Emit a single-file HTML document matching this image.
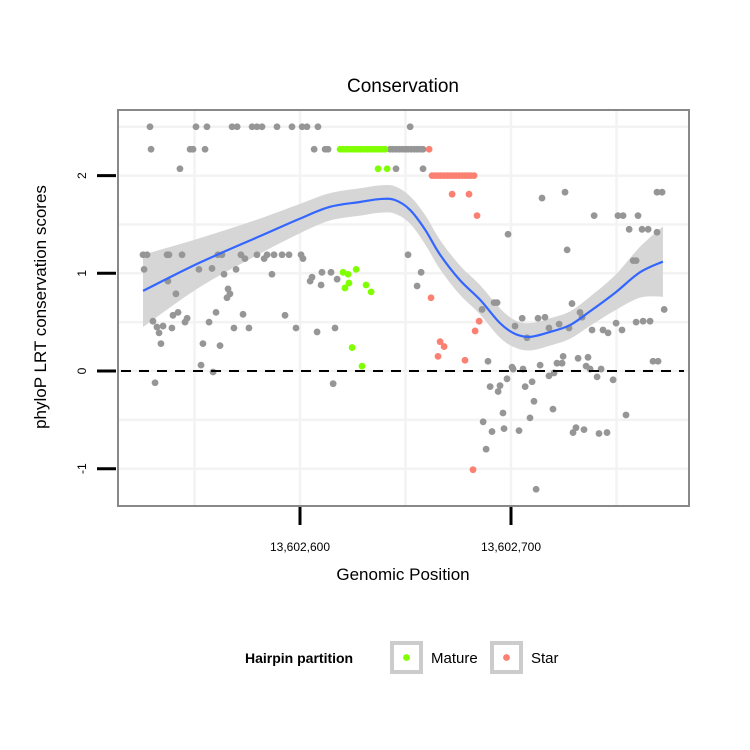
<!DOCTYPE html>
<html><head><meta charset="utf-8"><style>
html,body{margin:0;padding:0;background:#fff;width:750px;height:750px;overflow:hidden}
svg{display:block;font-family:"Liberation Sans",sans-serif}
</style></head><body>
<svg id="chart" width="750" height="750" viewBox="0 0 750 750"></svg>
<script>
// ---- data ----
const basePosition = 13602500;
const greyOffsets = [28.9,50.7,55.9,67.8,70.2,77.3,79.6,82.0,89.1,96.2,101.0,103.3,108.5,152.2,
29.4,47.9,49.3,55.0,106.7,111.9,113.3,142.7,144.1,145.5,147.0,148.4,149.8,151.2,152.7,154.1,155.5,157.0,158.3,
43.1,145.5,158.3,225.6,269.2,271.6,214.7,239.4,250.7,253.1,260.2,256.0,262.1,265.0,269.2,198.6,226.6,257.9,259.3,
25.6,27.5,37.0,37.9,44.1,61.1,63.0,72.0,79.6,84.4,87.7,91.5,94.8,100.5,151.2,73.9,83.0,101.4,
26.1,52.1,69.7,58.3,64.0,86.7,110.4,114.7,157.4,105.7,104.8,110.0,117.6,37.4,41.2,65.9,65.4,66.8,
39.8,42.2,46.5,45.5,30.3,32.2,35.1,39.3,33.2,34.1,56.9,60.2,73.0,68.7,75.8,54.0,62.1,92.9,98.1,108.1,116.6,53.1,58.8,31.3,115.7,155.5,
192.0,193.4,186.3,228.9,232.7,233.7,205.3,201.9,207.6,212.8,216.1,218.0,222.8,227.5,238.4,243.6,246.0,249.8,252.6,259.3,262.6,265.9,272.6,
189.1,200.5,201.0,205.7,213.8,221.8,224.2,224.7,231.8,236.5,235.6,237.5,242.7,240.8,267.3,269.7,220.4,218.0,210.0,206.7,198.1,194.8,193.9,190.1,248.4,
210.9,219.9,196.2,209.0,254.5,186.8,191.0,196.7,203.8,229.4,230.8,234.6,241.7,245.5,188.2,211.9];
const greyScores = [2.5,2.5,2.5,2.5,2.5,2.5,2.5,2.5,2.5,2.5,2.5,2.5,2.5,2.5,
2.27,2.27,2.27,2.27,2.27,2.27,2.27,2.27,2.27,2.27,2.27,2.27,2.27,2.27,2.27,2.27,2.27,2.27,2.27,
2.07,2.07,2.07,1.83,1.83,1.83,1.77,1.59,1.59,1.59,1.59,1.45,1.45,1.45,1.42,1.40,1.24,1.13,1.13,
1.19,1.19,1.19,1.19,1.19,1.19,1.19,1.19,1.19,1.19,1.19,1.19,1.19,1.19,1.19,1.15,1.15,1.15,
1.04,1.04,1.04,1.05,0.99,0.99,1.01,1.01,1.01,0.96,0.92,0.88,0.94,0.92,0.79,0.84,0.75,0.79,
0.57,0.60,0.54,0.50,0.51,0.45,0.46,0.44,0.39,0.28,0.50,0.60,0.58,0.44,0.44,0.28,0.26,0.57,0.44,0.40,0.44,0.06,-0.01,-0.12,-0.13,0.87,
0.70,0.70,0.63,0.69,0.60,0.55,0.54,0.46,0.34,0.54,0.55,0.44,0.48,0.44,0.42,0.42,0.39,0.49,0.42,0.50,0.51,0.51,0.63,
0.10,0.04,0.02,0.02,0.06,0.08,0.08,0.15,0.13,0.14,0.05,0.02,0.02,-0.06,0.10,0.10,-0.02,-0.05,-0.11,-0.16,-0.08,-0.15,-0.21,-0.16,-0.09,
-0.31,-0.39,-0.43,-0.48,-0.45,-0.52,-0.62,-0.59,-0.61,-0.63,-0.58,-0.60,-0.64,-0.63,-0.80,-1.21];
const matureOffsets = [119.0,120.4,121.8,123.2,124.7,126.1,127.5,128.9,130.4,131.8,133.2,134.6,136.0,137.5,138.9,140.3,137.0,141.3,120.4,122.8,126.6,123.2,121.3,131.3,133.7,124.7,129.4];
const matureScores = [2.27,2.27,2.27,2.27,2.27,2.27,2.27,2.27,2.27,2.27,2.27,2.27,2.27,2.27,2.27,2.27,2.07,2.07,1.01,0.99,1.04,0.90,0.85,0.88,0.81,0.24,0.05];
const starOffsets = [161.2,162.6,164.0,165.4,166.8,168.3,169.7,171.1,172.5,173.9,175.4,176.8,178.2,179.6,181.0,182.5,172.1,180.1,183.9,162.1,184.9,183.0,166.4,168.3,165.4,178.2,182.0];
const starScores = [2.27,2.0,2.0,2.0,2.0,2.0,2.0,2.0,2.0,2.0,2.0,2.0,2.0,2.0,2.0,2.0,1.81,1.81,1.59,0.75,0.51,0.41,0.30,0.25,0.15,0.11,-1.01];
const smoothOffsets = [25.6,52.6,81.0,100,114.2,128.4,137.9,145.0,152.1,159.2,166.4,175.8,185.3,194.8,201.9,209.0,218.5,228.0,237.4,249.3,261.1,272.0];
const smoothFit = [0.82,1.11,1.38,1.56,1.68,1.73,1.76,1.75,1.65,1.45,1.19,0.93,0.73,0.49,0.38,0.35,0.40,0.47,0.61,0.80,1.01,1.12];
const smoothSe = [0.37,0.25,0.18,0.15,0.14,0.14,0.14,0.14,0.14,0.15,0.15,0.15,0.15,0.15,0.14,0.14,0.14,0.14,0.15,0.18,0.26,0.36];
const yTicks = [-1,0,1,2];
const yMinor = [-0.5,0.5,1.5,2.5];
const xTicks = [13602600,13602700];
const xTickLabels = ["13,602,600","13,602,700"];
const xMinor = [13602550,13602650,13602750];

// ---- scales ----
const PX0=118, PX1=689, PY0=110, PY1=506;
function xs(p){ return 300 + (p-13602600)*2.11; }
function ys(v){ return 371 - v*97.7; }

const NS="http://www.w3.org/2000/svg";
const svg=document.getElementById('chart');
function mk(tag,attrs,parent){const e=document.createElementNS(NS,tag);for(const k in attrs)e.setAttribute(k,attrs[k]);(parent||svg).appendChild(e);return e;}
function curve(pts){ // catmull-rom to bezier
  let d='M'+pts[0][0]+','+pts[0][1];
  for(let i=0;i<pts.length-1;i++){
    const p0=pts[Math.max(0,i-1)],p1=pts[i],p2=pts[i+1],p3=pts[Math.min(pts.length-1,i+2)];
    const c1=[p1[0]+(p2[0]-p0[0])/6,p1[1]+(p2[1]-p0[1])/6];
    const c2=[p2[0]-(p3[0]-p1[0])/6,p2[1]-(p3[1]-p1[1])/6];
    d+=' C'+c1.join(',')+' '+c2.join(',')+' '+p2.join(',');
  }
  return d;
}

let t=mk('text',{x:403,y:92,'text-anchor':'middle','font-size':19,fill:'#000'});t.textContent='Conservation';



const panel=mk('rect',{x:PX0,y:PY0,width:PX1-PX0,height:PY1-PY0,fill:'#fff'});


const grid=mk('g',{stroke:'#f3f3f3','stroke-width':2.5});


yTicks.concat(yMinor).forEach(v=>mk('line',{x1:PX0,x2:PX1,y1:ys(v),y2:ys(v)},grid));
xTicks.concat(xMinor).forEach(p=>mk('line',{y1:PY0,y2:PY1,x1:xs(p),x2:xs(p)},grid));

// ribbon
const upP=[],loP=[];
for(let i=0;i<smoothOffsets.length;i++){const x=xs(basePosition+smoothOffsets[i]);upP.push([x,ys(smoothFit[i]+smoothSe[i])]);loP.push([x,ys(smoothFit[i]-smoothSe[i])]);}
const loRev=loP.slice().reverse();
const rib=mk('path',{d:curve(upP)+' L'+loRev[0].join(',')+curve(loRev).slice(curve(loRev).indexOf(' C'))+' Z',fill:'#d6d6d6'});



function drawPts(offs,scores,color,name){
  const g=mk('g',{fill:color});
  
  
  for(let i=0;i<offs.length;i++){
    const c=mk('circle',{cx:xs(basePosition+offs[i]),cy:ys(scores[i]),r:3.4},g);
    
    
  }
}
drawPts(greyOffsets,greyScores,'#969696','points-other');

const zl=mk('line',{x1:121,x2:684,y1:ys(0),y2:ys(0),stroke:'#000','stroke-width':2,'stroke-dasharray':'10,8'});



drawPts(matureOffsets,matureScores,'#80ff00','points-mature');
drawPts(starOffsets,starScores,'#fa8072','points-star');

const sl=mk('path',{d:curve(smoothOffsets.map((o,i)=>[xs(basePosition+o),ys(smoothFit[i])])),fill:'none',stroke:'#3366ff','stroke-width':2.2});



const bd=mk('rect',{x:PX0,y:PY0,width:PX1-PX0,height:PY1-PY0,fill:'none',stroke:'#888','stroke-width':2});



yTicks.forEach(v=>{
  const l=mk('line',{x1:97,x2:116,y1:ys(v),y2:ys(v),stroke:'#000','stroke-width':3});
  
  
  const tx=mk('text',{x:0,y:0,'text-anchor':'middle','font-size':12,transform:`translate(86,${ys(v)}) rotate(-90)`});
  tx.textContent=String(v);
  
  
});
const yt=mk('text',{x:0,y:0,'text-anchor':'middle','font-size':17,transform:'translate(46,307) rotate(-90)'});
yt.textContent='phyloP LRT conservation scores';



xTicks.forEach((p,i)=>{
  const l=mk('line',{x1:xs(p),x2:xs(p),y1:507,y2:525,stroke:'#000','stroke-width':3});
  
  
  const tx=mk('text',{x:xs(p),y:551,'text-anchor':'middle','font-size':12});
  tx.textContent=xTickLabels[i];
  
  
});
const xt=mk('text',{x:403,y:580,'text-anchor':'middle','font-size':17});
xt.textContent='Genomic Position';



const lg=mk('g',{});


const lt=mk('text',{x:245,y:663,'font-size':14,'font-weight':'bold'},lg);
lt.textContent='Hairpin partition';


[['Mature','#80ff00',390],['Star','#fa8072',490]].forEach(([lab,col,x])=>{
  const e=mk('g',{},lg);
  
  
  mk('rect',{x:x+2,y:643,width:29,height:29,fill:'#fff',stroke:'#cccccc','stroke-width':4},e);
  mk('circle',{cx:x+16.5,cy:657.5,r:3.4,fill:col},e);
  const tx=mk('text',{x:x+41,y:663,'font-size':15},e);
  tx.textContent=lab;
});
</script>
</body></html>
